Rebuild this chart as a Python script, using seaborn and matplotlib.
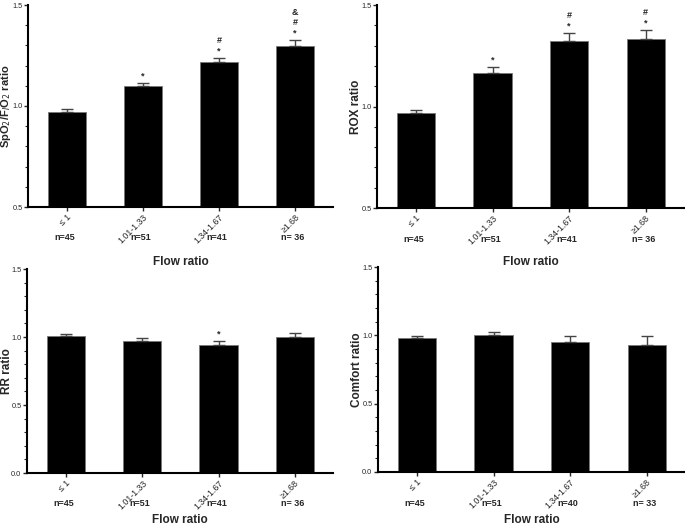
import matplotlib
matplotlib.use("Agg")
import matplotlib.pyplot as plt
import seaborn as sns
import numpy as np
from matplotlib.ticker import MultipleLocator

sns.set_style("white")
plt.rcParams['font.family'] = ['Liberation Sans', 'DejaVu Sans']

categories = ["≤ 1", "1.01-1.33", "1.34-1.67", "≥1.68"]

spo2_mean = [0.970, 1.100, 1.217, 1.297]
spo2_err = [0.014, 0.015, 0.019, 0.028]
spo2_marks = ["", "*", "*\n#", "*\n#\n&"]
spo2_n = ["n=45", "n=51", "n=41", "n= 36"]

rox_mean = [0.967, 1.166, 1.324, 1.331]
rox_err = [0.016, 0.030, 0.040, 0.046]
rox_marks = ["", "*", "*\n#", "*\n#"]
rox_n = ["n=45", "n=51", "n=41", "n= 36"]

rr_mean = [1.008, 0.971, 0.939, 0.998]
rr_err = [0.015, 0.020, 0.030, 0.035]
rr_marks = ["", "", "*", ""]
rr_n = ["n=45", "n=51", "n=41", "n= 36"]

comfort_mean = [0.984, 1.000, 0.954, 0.932]
comfort_err = [0.009, 0.025, 0.044, 0.066]
comfort_marks = ["", "", "", ""]
comfort_n = ["n=45", "n=51", "n=40", "n= 33"]

fig = plt.figure(figsize=(6.85, 5.27), dpi=100)
W, H = 685, 527
PT = 0.72  # points per pixel at 100 dpi

def make_ax(l, r, t, b):
    return fig.add_axes([l / W, 1 - b / H, (r - l) / W, (b - t) / H])

panels = [
    (make_ax(28, 333, 5, 207), 28, 305, spo2_mean, spo2_err, spo2_marks, spo2_n, r"SpO$_2$/F$_I$O$_2$ ratio", 0.5, 262, 6, 8),
    (make_ax(377, 684, 5, 208), 377, 307, rox_mean, rox_err, rox_marks, rox_n, "ROX ratio", 0.5, 262, 356, 8.5),
    (make_ax(27, 333, 269, 473), 27, 306, rr_mean, rr_err, rr_marks, rr_n, "RR ratio", 0.0, 520, 7, 8.5),
    (make_ax(378, 685, 267, 472), 378, 307, comfort_mean, comfort_err, comfort_marks, comfort_n, "Comfort ratio", 0.0, 520, 357, 8.5),
]

for ax, left_px, width_px, mean, err, marks, ns, ylabel, ymin, xlab_y, ylab_x, ylab_fs in panels:
    sns.barplot(x=categories, y=mean, color="black", width=0.5, ax=ax,
                edgecolor="#777777", linewidth=0.6, saturation=1)
    x = np.arange(len(categories))
    ax.errorbar(x, mean, yerr=[np.zeros(len(mean)), err], fmt="none",
                ecolor="#444444", elinewidth=1.0, capsize=4, capthick=1.0)
    ax.set_ylim(ymin, 1.5)
    ax.set_xlim(-0.51, 3.5)
    ax.yaxis.set_major_locator(MultipleLocator(0.5))
    ax.yaxis.set_minor_locator(MultipleLocator(0.1))
    ax.yaxis.set_major_formatter(matplotlib.ticker.FormatStrFormatter("%.1f"))
    for s in ["top", "right"]:
        ax.spines[s].set_visible(False)
    for s in ["left", "bottom"]:
        ax.spines[s].set_linewidth(1.5)
        ax.spines[s].set_color("black")
    ax.tick_params(axis="y", which="major", length=3, width=1, labelsize=5.3, pad=1, left=True)
    ax.tick_params(axis="y", which="minor", length=2, width=0.8, left=True)
    ax.tick_params(axis="x", length=3, width=1, labelsize=6.3, pad=1, bottom=True)
    ax.set_xticks(x)
    ax.set_xticklabels(categories, rotation=45, ha="right", rotation_mode="anchor")
    ax.set_ylabel(ylabel, fontsize=ylab_fs, fontweight="bold", va="center")
    ax.yaxis.set_label_coords((ylab_x - left_px) / width_px, 0.5)
    ax.set_xlabel("")
    for i, (m, e, mk) in enumerate(zip(mean, err, marks)):
        if mk:
            lines = mk.split("\n")
            for j, sym in enumerate(lines):
                ax.annotate(sym, (i, m + e), xytext=(0, (7 + j * 10.5) * PT), textcoords="offset points",
                            ha="center", va="center", fontsize=6.5, fontweight="bold")
    for i, n in enumerate(ns):
        ax.annotate(n, (i, ymin), xytext=(-2 * PT, -31 * PT), textcoords="offset points",
                    ha="center", va="center", fontsize=6.5, fontweight="bold",
                    annotation_clip=False)
    pos = ax.get_position()
    fig.text((pos.x0 + pos.x1) / 2, 1 - xlab_y / H, "Flow ratio", ha="center", va="center",
             fontsize=8.5, fontweight="bold")

fig.savefig("out.png", dpi=100)
